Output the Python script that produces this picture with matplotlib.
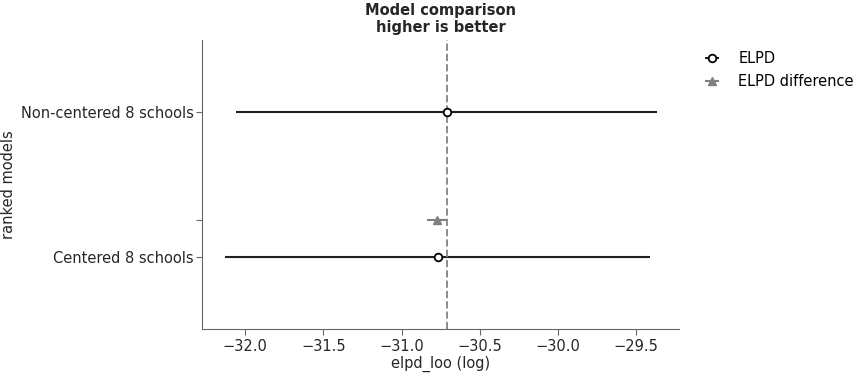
import numpy as np
import matplotlib.pyplot as plt

models = ['Non-centered 8 schools', 'Centered 8 schools']
elpd = [-30.71, -30.77]
elpd_se = [1.345, 1.36]
elpd_diff = -30.775
diff_se = 0.065
# y positions as drawn in the compare plot
y_models = [0.0, -1.0]
y_diff = -0.74

fs = 10.5
plt.rcParams['font.family'] = 'DejaVu Sans'
fig = plt.figure(figsize=(8.62, 3.75), dpi=100)
ax = fig.add_axes([202 / 862, 46 / 375, 477 / 862, 289 / 375])

ax.errorbar(elpd, y_models, xerr=elpd_se, fmt='o', color='#1f1f1f', mfc='white',
            mec='black', mew=1.3, ms=5.5, lw=1.5, label='ELPD')
ax.errorbar([elpd_diff], [y_diff], xerr=[diff_se], fmt='^', color='grey',
            ms=5.5, lw=1.5, label='ELPD difference')
ax.axvline(elpd[0], ls='--', color='#8c8c8c', lw=1.4)

ax.set_yticks([y_models[0], y_diff, y_models[1]])
ax.set_yticklabels([models[0], '', models[1]], fontsize=fs, color='#262626')
ax.set_ylim(-1.49, 0.49)
ax.set_xlim(-32.275, -29.227)
ax.set_xticks([-32.0, -31.5, -31.0, -30.5, -30.0, -29.5])
ax.tick_params(axis='x', labelsize=fs, colors='#262626')
ax.tick_params(colors='#262626', length=4, color='#666666')
ax.tick_params(axis='y', pad=2)
for s in ['top', 'right']:
    ax.spines[s].set_visible(False)
for s in ['left', 'bottom']:
    ax.spines[s].set_color('#666666')
ax.set_xlabel('elpd_loo (log)', fontsize=fs, color='#262626', labelpad=1)
ax.set_ylabel('ranked models', fontsize=fs, color='#262626')
ax.yaxis.set_label_coords(-0.389, 0.5)
ax.set_title('Model comparison\nhigher is better', fontsize=fs, fontweight='bold',
             color='#262626', linespacing=1.1)
ax.legend(loc='upper left', bbox_to_anchor=(1.011, 1.006), frameon=False, fontsize=fs)

fig.savefig('out.png', dpi=100)
